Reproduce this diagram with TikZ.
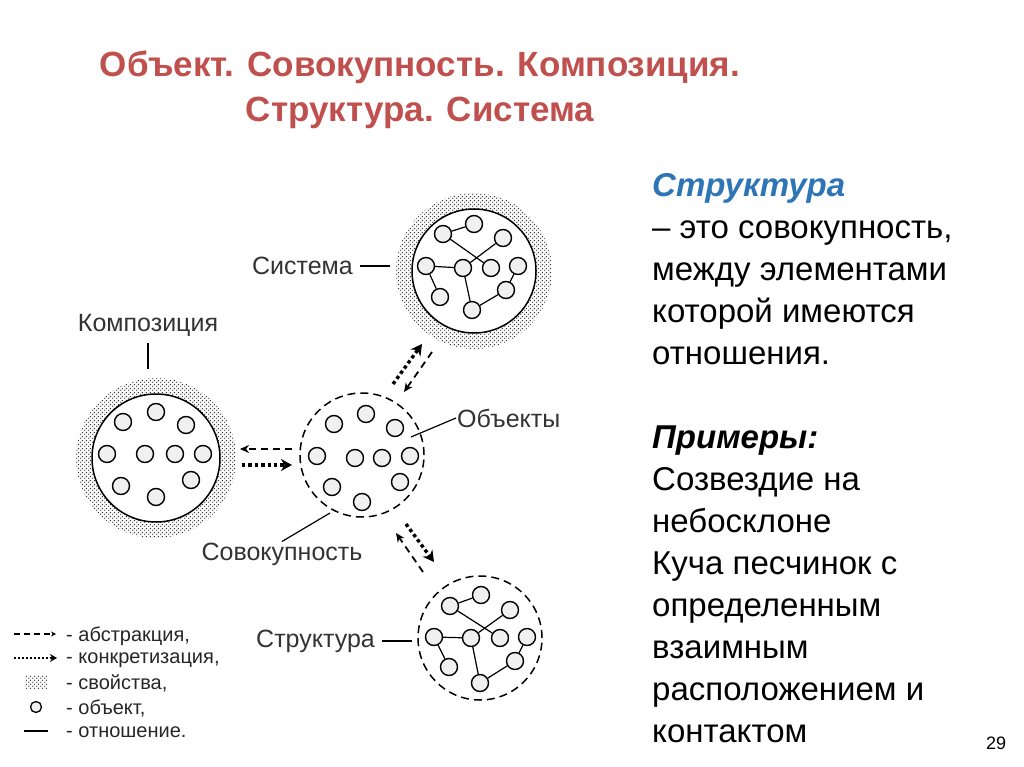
\documentclass[tikz,border=0pt]{standalone}
\usepackage{fontspec}
\setmainfont{Liberation Sans}
\usetikzlibrary{arrows.meta,patterns}
\definecolor{ttl}{HTML}{C0504D}
\definecolor{blu}{HTML}{2E75B6}
\pgfdeclarepatternformonly{bigdots}{\pgfpointorigin}{\pgfpoint{4pt}{4pt}}{\pgfpoint{4pt}{4pt}}{%
  \pgfpathcircle{\pgfpoint{1pt}{1pt}}{0.85pt}\pgfpathcircle{\pgfpoint{3pt}{3pt}}{0.85pt}\pgfusepath{fill}}
\begin{document}
\begin{tikzpicture}[x=1pt,y=-1pt,
  obj/.style={circle,draw,line width=1.4pt,minimum size=17pt,inner sep=0pt,fill=gray!12},
  rel/.style={line width=1.2pt},
  absarr/.style={line width=1.8pt,dash pattern=on 7pt off 5pt,-{Stealth[length=9pt,width=8pt]}},
  conarr/.style={line width=3.4pt,dash pattern=on 3.4pt off 3pt,-{Stealth[length=11pt,width=12pt]}},
  lbl/.style={font=\fontsize{25}{30}\selectfont,text=black!80,inner sep=1pt},
  body/.style={font=\fontsize{33}{42}\selectfont,align=left,anchor=north west,inner sep=0pt},
  stip/.style={pattern=bigdots,pattern color=black!80,even odd rule}]
\useasboundingbox (0,0) rectangle (1024,767);
% title
\node[font=\fontsize{35}{45}\selectfont\bfseries,text=ttl,align=center,inner sep=0pt] (title) at (420,90) {Объект. Совокупность. Композиция.\\Структура. Система};
% right text
\node[body] (txt) at (652,173) {\textcolor{blu}{\textbf{\textit{Структура}}}\\– это совокупность,\\между элементами\\которой имеются\\отношения.\\\mbox{}\\\textbf{\textit{Примеры:}}\\Созвездие на\\небосклоне\\Куча песчинок с\\определенным\\взаимным\\расположением и\\контактом};
\node[font=\fontsize{18}{20}\selectfont] (pg) at (996,743) {29};

% composition
\coordinate (cc) at (156,458);
\fill[stip] (cc) circle[radius=80pt] (cc) circle[radius=64pt];
\draw[line width=1.5pt] (cc) circle[radius=64pt];
\foreach \n/\x/\y in {1/123/422,2/156/412,3/186/425,4/107/454,5/145/454,6/175/454,7/203/454,8/121/486,9/191/480,10/156/497}
  \node[obj] (c\n) at (\x,\y) {};
% set (dashed)
\coordinate (sc) at (362,455);
\draw[line width=1.5pt,dash pattern=on 8pt off 5pt] (sc) circle[radius=62pt];
\foreach \n/\x/\y in {1/334/424,2/366/414,3/395/428,4/317/456,5/355/458,6/382/458,7/410/456,8/332/487,9/400/482,10/362/502}
  \node[obj] (m\n) at (\x,\y) {};
% system
\coordinate (yc) at (474,271);
\fill[stip] (yc) circle[radius=78pt] (yc) circle[radius=62pt];
\draw[line width=1.5pt] (yc) circle[radius=62pt];
\foreach \n/\x/\y in {1/443/234,2/474/224,3/503/238,4/426/266,5/463/268,6/491/268,7/518/266,8/440/297,9/506/290,10/472/310}
  \node[obj] (y\n) at (\x,\y) {};
% structure
\coordinate (tc) at (480,638);
\draw[line width=1.5pt,dash pattern=on 8pt off 5pt] (tc) circle[radius=62pt];
\foreach \n/\x/\y in {1/450/606,2/481/595,3/510/610,4/434/637,5/471/638,6/500/638,7/527/637,8/449/667,9/515/661,10/480/683}
  \node[obj] (t\n) at (\x,\y) {};
\foreach \p in {y,t}{
  \draw[rel] (\p1)--(\p2); \draw[rel] (\p1)--(\p6); \draw[rel] (\p3)--(\p5);
  \draw[rel] (\p4)--(\p5); \draw[rel] (\p4)--(\p8); \draw[rel] (\p5)--(\p10);
  \draw[rel] (\p10)--(\p9); \draw[rel] (\p9)--(\p7);}

% arrows
\coordinate (a1s) at (292,449); \coordinate (a1e) at (240,449);
\coordinate (a2s) at (242,465); \coordinate (a2e) at (292,465);
\draw[absarr] (a1s)--(a1e);
\draw[conarr] (a2s)--(a2e);
\coordinate (u1s) at (432,352); \coordinate (u1e) at (404,392);
\coordinate (u2s) at (393,384); \coordinate (u2e) at (422,344);
\draw[absarr] (u1s)--(u1e);
\draw[conarr] (u2s)--(u2e);
\coordinate (d1s) at (423,572); \coordinate (d1e) at (396,533);
\coordinate (d2s) at (406,524); \coordinate (d2e) at (434,562);
\draw[absarr] (d1s)--(d1e);
\draw[conarr] (d2s)--(d2e);

% labels
\node[lbl,anchor=east] (lsys) at (354,266) {Система};
\draw[rel] (lsys.east)++(6,0) coordinate (ls1) -- ++(30,0) coordinate (ls2);
\node[lbl] (lcomp) at (148,325) {Композиция};
\draw[rel] (lcomp.south)++(0,6) coordinate (lc1) -- ++(0,26) coordinate (lc2);
\node[lbl,anchor=west] (lobj) at (456,418) {Объекты};
\coordinate (lo1) at (411,437);
\draw[rel] (lo1)--(lobj.west);
\node[lbl] (lset) at (282,554) {Совокупность};
\coordinate (lm1) at (330,513);
\draw[rel] (lm1)--(lset.north);
\node[lbl,anchor=east] (lstr) at (376,641) {Структура};
\draw[rel] (lstr.east)++(6,0) coordinate (lt1) -- ++(30,0) coordinate (lt2);

% legend
\tikzset{leg/.style={font=\fontsize{20}{24}\selectfont,anchor=west,text=black!85,inner sep=0pt}}
\coordinate (g1a) at (14,634); \coordinate (g1b) at (56,634);
\draw[line width=1.6pt,dash pattern=on 6pt off 4pt,-{Stealth[length=5pt,width=5pt]}] (g1a)--(g1b);
\node[leg] (g1) at (66,636) {- абстракция,};
\coordinate (g2a) at (14,658); \coordinate (g2b) at (57,658);
\draw[line width=2.4pt,dash pattern=on 2pt off 2pt,-{Stealth[length=7pt,width=8pt]}] (g2a)--(g2b);
\node[leg] (g2) at (66,660) {- конкретизация,};
\fill[pattern=bigdots,pattern color=black!70] (25,675) rectangle (47,688);
\node[leg] (g3) at (66,683) {- свойства,};
\node[obj,minimum size=11pt,line width=1.3pt] (g4s) at (36,707) {};
\node[leg] (g4) at (66,708) {- объект,};
\coordinate (g5a) at (24,731); \coordinate (g5b) at (48,731);
\draw[line width=1.3pt] (g5a)--(g5b);
\node[leg] (g5) at (66,732) {- отношение.};
\end{tikzpicture}
\end{document}
